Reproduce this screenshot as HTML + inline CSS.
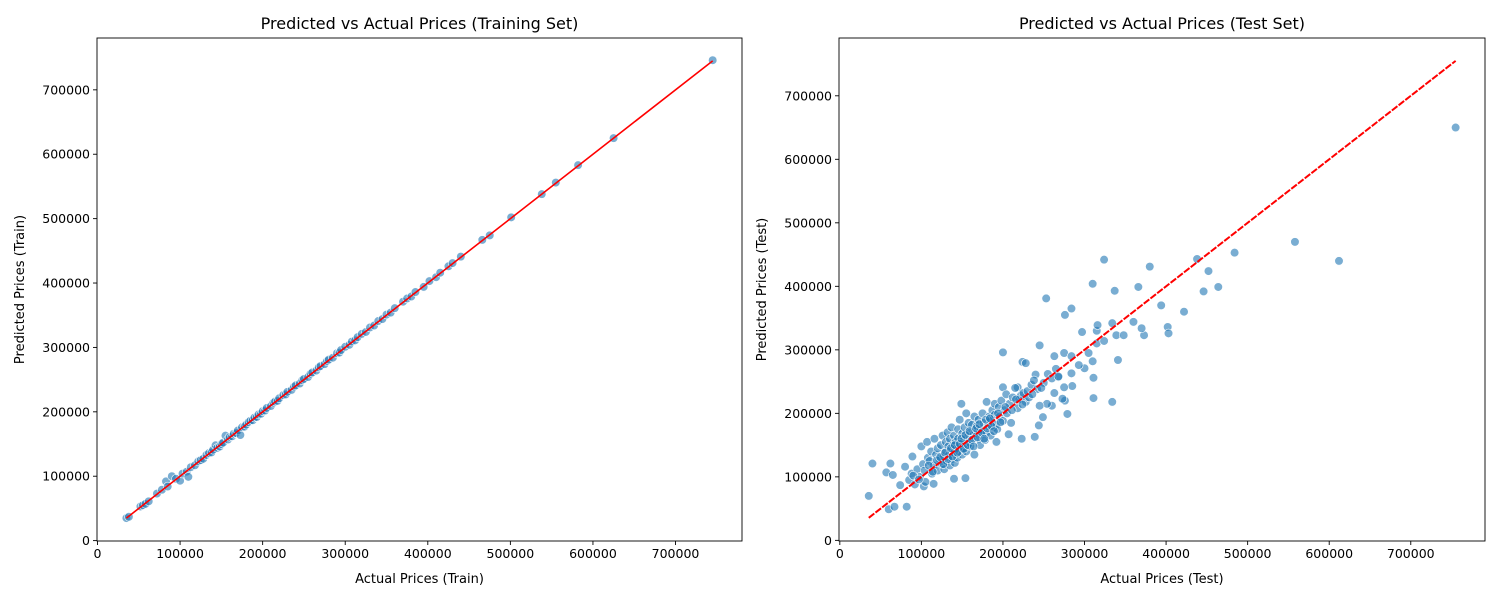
<!DOCTYPE html>
<html><head><meta charset="utf-8"><style>
html,body{margin:0;padding:0;background:#fff;}
svg{display:block;font-family:"DejaVu Sans","Liberation Sans",sans-serif;}
</style></head><body>
<svg id="fig" width="1500" height="600" viewBox="0 0 1500 600" xmlns="http://www.w3.org/2000/svg"></svg>
<script>
// ---- data (thousands of dollars) ----
const trainActual = [35,38,52,55,58,62,72,78,83,85,90,95,100,103,108,110,113,118,122,125,128,132,135,138,140,143,145,148,150,152,155,158,160,163,165,168,170,173,175,178,180,183,185,188,190,193,195,198,200,203,205,210,213,215,218,220,225,228,230,235,238,240,245,248,250,255,258,260,265,268,270,275,278,280,285,290,293,295,300,305,308,312,315,320,325,330,335,340,345,350,355,360,370,375,380,385,395,402,410,415,425,430,440,466,475,501,538,555,582,625,745];
const trainPred   = [35,37,53,55,57,61,73,79,92,84,100,96,93,104,107,99,114,117,123,125,127,133,136,137,141,148,144,146,150,152,163,157,161,162,166,167,171,164,176,177,180,184,186,187,191,192,196,197,201,202,206,209,214,216,217,221,226,227,231,234,239,241,244,249,251,254,259,261,264,269,271,274,279,281,284,291,292,296,301,304,309,311,316,321,324,331,334,341,344,351,354,361,371,376,379,386,394,403,409,416,426,431,441,467,474,502,538,556,583,625,746];
const testActual = [35.5,40,57,62,60,67,82,65,89,80,74,103,115,154,140,149,200,224,228,245,253,276,284,310,324,337,380,366,438,452,484,464,446,394,422,402,403,373,370,360,339,348,334,341,334,311,311,310,300,293,297,305,315,324,315,316,275,263,284,284,285,279,276,273,260,263,254,249,244,239,223,207,192,218,200,240,268,275,558,612,755,
 85,88,92,95,98,100,102,105,107,108,110,112,113,115,116,118,120,120,122,124,125,126,127,128,130,130,131,132,133,134,135,135,136,137,138,139,140,140,141,142,143,144,145,145,146,147,148,150,150,151,152,153,155,155,156,157,158,160,160,161,162,163,165,165,166,168,170,170,172,173,175,175,176,178,180,180,182,183,185,185,187,188,190,190,192,193,195,196,198,200,202,204,205,208,210,212,215,218,220,222,225,228,230,232,235,238,242,245,250,255,260,265,268,
 90,97,104,109,114,119,123,127,129,133,136,138,141,144,147,149,152,154,157,159,162,164,167,169,171,174,177,179,181,184,186,189,194,197,203,211,216,224,236,247];
const testPred = [70,121,107,121,49,53,53,103,132,116,87,85,89,98,97,215,296,281,279,307,381,355,365,404,442,393,431,399,443,424,453,399,392,370,360,336,326,323,334,344,323,323,342,284,218,224,256,282,271,276,328,295,310,314,330,339,295,290,290,263,243,199,220,223,212,232,215,194,181,163,160,167,155,241,241,261,257,241,470,440,650,
 95,105,88,112,100,148,120,92,155,130,125,140,105,118,160,135,110,145,128,150,120,165,132,112,140,155,125,170,148,135,118,160,142,178,128,150,138,165,122,155,145,130,175,160,140,190,152,135,168,145,158,178,140,200,162,150,185,148,170,158,182,165,135,195,172,180,160,190,150,175,168,200,185,158,170,218,180,195,188,165,205,178,198,215,182,175,210,195,220,188,205,230,200,215,185,225,240,208,222,228,232,218,235,225,245,252,238,212,248,262,255,270,258,
 102,96,110,118,108,126,131,120,138,128,145,132,150,138,152,160,144,166,150,172,158,148,176,162,183,170,160,190,176,192,180,172,200,186,210,205,222,214,230,240];
const xTicks = [0,100000,200000,300000,400000,500000,600000,700000];
const yTicks = [0,100000,200000,300000,400000,500000,600000,700000];

const svg = document.getElementById('fig');
const NS = 'http://www.w3.org/2000/svg';
function mk(tag, attrs, parent){const e=document.createElementNS(NS,tag);for(const k in attrs)e.setAttribute(k,attrs[k]);(parent||svg).appendChild(e);return e;}

function panel(cfg){
  const g = mk('g',{});
  
  
  const L=cfg.L,R=cfg.R,T=38,B=541;
  const sx=v=>L+(v-cfg.min)/(cfg.max-cfg.min)*(R-L);
  const sy=v=>B-(v-cfg.min)/(cfg.max-cfg.min)*(B-T);
  const pts = mk('g',{},g);
  
  
  for(let i=0;i<cfg.ax.length;i++){
    const c=mk('circle',{cx:sx(cfg.ax[i]*1000),cy:sy(cfg.py[i]*1000),r:4.3,fill:'#1f77b4','fill-opacity':0.6,stroke:'#fff','stroke-width':0.6},pts);
    
    
  }
  const lo=Math.min(...cfg.ax)*1000, hi=Math.max(...cfg.ax)*1000;
  const la={x1:sx(lo),y1:sy(lo),x2:sx(hi),y2:sy(hi),stroke:'#ff0000','stroke-width':cfg.lw};
  if(cfg.dash) la['stroke-dasharray']=cfg.dash;
  const ln=mk('line',la,g);
  
  
  const fr=mk('rect',{x:L,y:T,width:R-L,height:B-T,fill:'none',stroke:'#000','stroke-width':0.9},g);
  
  
  xTicks.forEach(t=>{
    mk('line',{x1:sx(t),x2:sx(t),y1:B,y2:B+4,stroke:'#000','stroke-width':0.9},g);
    const tx=mk('text',{x:sx(t),y:B+17,'font-size':12.5,'text-anchor':'middle'},g);
    tx.textContent=t;
    
    
  });
  yTicks.forEach(t=>{
    mk('line',{x1:L-4,x2:L,y1:sy(t),y2:sy(t),stroke:'#000','stroke-width':0.9},g);
    const tx=mk('text',{x:L-7,y:sy(t)+4.5,'font-size':12.5,'text-anchor':'end'},g);
    tx.textContent=t;
    
    
  });
  const ti=mk('text',{x:(L+R)/2,y:29,'font-size':16,'text-anchor':'middle'},g);
  ti.textContent=cfg.title;
  
  
  const xl=mk('text',{x:(L+R)/2,y:583,'font-size':13,'text-anchor':'middle'},g);
  xl.textContent=cfg.xlabel;
  
  
  const yx=cfg.L-73;
  const yl=mk('text',{x:yx,y:(T+B)/2,'font-size':13,'text-anchor':'middle',transform:`rotate(-90 ${yx} ${(T+B)/2})`},g);
  yl.textContent=cfg.ylabel;
  
  
}
panel({name:'train-panel',L:97,R:742,min:-605,max:780505,ax:trainActual,py:trainPred,lw:1.6,dash:null,title:'Predicted vs Actual Prices (Training Set)',xlabel:'Actual Prices (Train)',ylabel:'Predicted Prices (Train)'});
panel({name:'test-panel',L:839,R:1485,min:-1000,max:791000,ax:testActual,py:testPred,lw:2,dash:'7,1.5',title:'Predicted vs Actual Prices (Test Set)',xlabel:'Actual Prices (Test)',ylabel:'Predicted Prices (Test)'});
</script>
</body></html>
